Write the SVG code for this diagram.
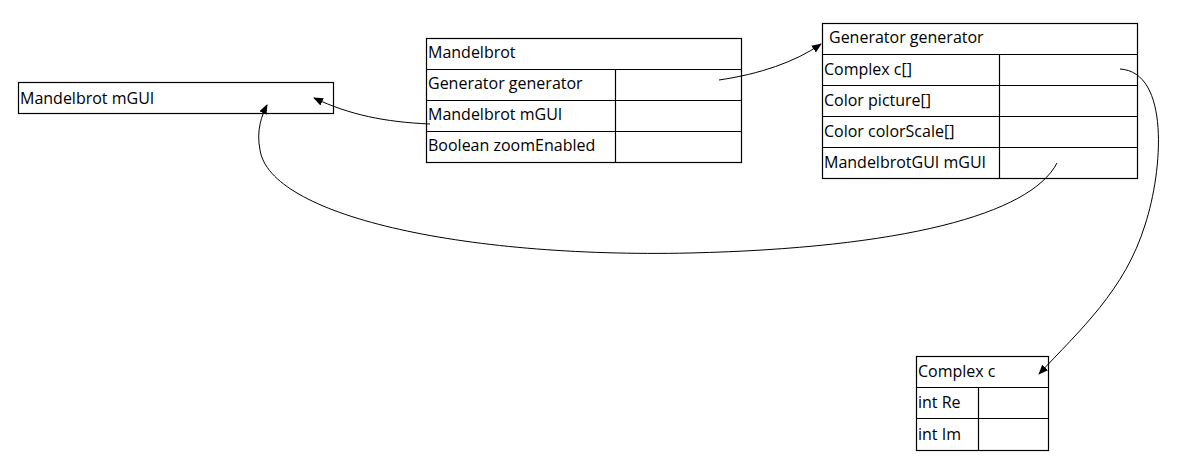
<svg xmlns="http://www.w3.org/2000/svg" width="1177" height="467" viewBox="0 0 1177 467">
<style>
.b{fill:#fff;stroke:#000;stroke-width:1.2}
.l{stroke:#000;stroke-width:1.2}
text{font-family:"Open Sans","Liberation Sans",sans-serif;font-size:16px;fill:#000}
.c{fill:none;stroke:#000;stroke-width:1}
</style>
<defs>
<marker id="a" viewBox="0 0 10 10" refX="9" refY="5" markerWidth="10" markerHeight="10" markerUnits="userSpaceOnUse" orient="auto">
<path d="M0,1 L10,5 L0,9 z" fill="#000"/>
</marker>
</defs>
<rect width="1177" height="467" fill="#fff"/>
<g id="mgui">
<rect class="b" x="18.5" y="82.5" width="315" height="31"/>
<text x="20" y="104">Mandelbrot mGUI</text>
</g>
<g id="mandelbrot">
<rect class="b" x="426.5" y="38.5" width="315" height="124"/>
<line class="l" x1="426" y1="69.5" x2="741" y2="69.5"/>
<line class="l" x1="426" y1="100.5" x2="741" y2="100.5"/>
<line class="l" x1="426" y1="131.5" x2="741" y2="131.5"/>
<line class="l" x1="615.5" y1="69" x2="615.5" y2="162"/>
<text x="428" y="58">Mandelbrot</text>
<text x="428" y="89">Generator generator</text>
<text x="428" y="120">Mandelbrot mGUI</text>
<text x="428" y="151">Boolean zoomEnabled</text>
</g>
<g id="generator">
<rect class="b" x="822.5" y="23.5" width="315" height="155"/>
<line class="l" x1="822" y1="54.5" x2="1137" y2="54.5"/>
<line class="l" x1="822" y1="85.5" x2="1137" y2="85.5"/>
<line class="l" x1="822" y1="116.5" x2="1137" y2="116.5"/>
<line class="l" x1="822" y1="147.5" x2="1137" y2="147.5"/>
<line class="l" x1="999.5" y1="54" x2="999.5" y2="178"/>
<text x="829" y="43">Generator generator</text>
<text x="824" y="75">Complex c[]</text>
<text x="824" y="106">Color picture[]</text>
<text x="824" y="137">Color colorScale[]</text>
<text x="824" y="168">MandelbrotGUI mGUI</text>
</g>
<g id="complex">
<rect class="b" x="916.5" y="356.5" width="132" height="94"/>
<line class="l" x1="916" y1="387.5" x2="1048" y2="387.5"/>
<line class="l" x1="916" y1="418.5" x2="1048" y2="418.5"/>
<line class="l" x1="978.5" y1="387" x2="978.5" y2="450"/>
<text x="918" y="377">Complex c</text>
<text x="918" y="408">int Re</text>
<text x="918" y="440">int Im</text>
</g>
<g id="connectors">
<path class="c" d="M719,80 C760,74 795,62 821,44" marker-end="url(#a)"/>
<path class="c" d="M430,124 C385,122 350,115 314,98" marker-end="url(#a)"/>
<path class="c" d="M1057,163 C1030,215 900,248 690,253 C460,258 270,215 260,150 C256,130 262,115 267,105" marker-end="url(#a)"/>
<path class="c" d="M1120,69 C1170,72 1163,170 1145,225 C1125,290 1080,330 1039,374" marker-end="url(#a)"/>
</g>
</svg>
